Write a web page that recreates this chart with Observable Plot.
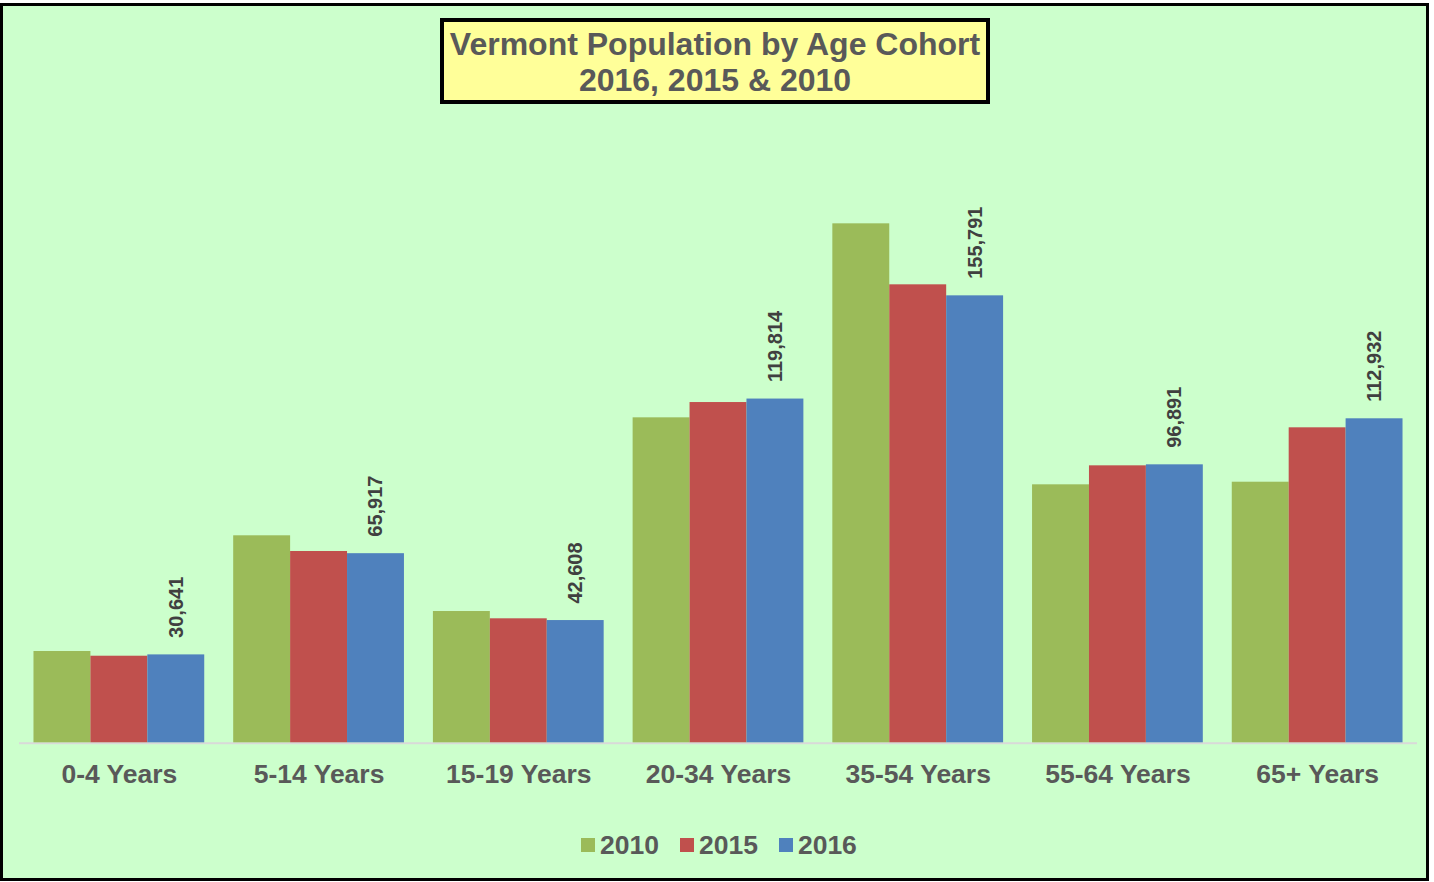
<!DOCTYPE html>
<html>
<head>
<meta charset="utf-8">
<script src="https://cdn.jsdelivr.net/npm/d3@7"></script>
<script src="https://cdn.jsdelivr.net/npm/@observablehq/plot@0.6"></script>
<style>
  html, body { margin: 0; padding: 0; background: #ffffff; width: 1434px; height: 882px; overflow: hidden; }
  body { position: relative; font-family: "Liberation Sans", Arial, sans-serif; }
  #frame { position: absolute; left: 0; top: 3px; width: 1429px; height: 878px; box-sizing: border-box;
           border: 3px solid #000; background: #CCFFCC; }
  #title { position: absolute; left: 440px; top: 18px; width: 550px; height: 86px; box-sizing: border-box;
           border: 4px solid #000; background: #FFFF99; color: #595959; font-weight: bold; font-size: 32px;
           line-height: 36px; text-align: center; padding-top: 4px; }
  #chart { position: absolute; left: 0; top: 110px; }
  #legend { position: absolute; left: 581px; top: 829px; display: flex; align-items: center; color: #595959;
            font-weight: bold; font-size: 26.5px; line-height: 32px; }
  .item { display: flex; align-items: center; margin-right: 21px; }
  .sw { width: 14px; height: 14px; margin-right: 5px; }
</style>
</head>
<body>
<div id="frame"></div>
<div id="title">Vermont Population by Age Cohort<br>2016, 2015 &amp; 2010</div>
<div id="chart"></div>
<div id="legend"></div>
<script>
const categories = ["0-4 Years", "5-14 Years", "15-19 Years", "20-34 Years", "35-54 Years", "55-64 Years", "65+ Years"];
const years = ["2010", "2015", "2016"];
const v2010 = [31820, 72150, 45760, 113270, 180890, 89920, 90830];
const v2015 = [30180, 66680, 43220, 118600, 159630, 96540, 109790];
const v2016 = [30641, 65917, 42608, 119814, 155791, 96891, 112932];
const colors = ["#9BBB59", "#C0504D", "#4F81BD"];

const series = {"2010": v2010, "2015": v2015, "2016": v2016};
const rows = [];
categories.forEach((c, i) => years.forEach(y => rows.push({category: c, year: y, value: series[y][i]})));
const labelRows = rows.filter(d => d.year === "2016");

const W = 1434, H = 700;
const plot = Plot.plot({
  width: W,
  height: H,
  marginLeft: 19,
  marginRight: 17,
  marginTop: 58.5,
  marginBottom: 67.7,
  style: {background: "transparent", fontFamily: "'Liberation Sans', Arial, sans-serif", fontSize: "26.5px", fontWeight: "bold", color: "#595959"},
  fx: {domain: categories, paddingInner: 0.145, paddingOuter: 0.0725, round: false, axis: "bottom", tickSize: 0, tickPadding: 21, label: null},
  x: {domain: years, padding: 0, round: false, axis: null},
  y: {domain: [0, 200000], axis: null},
  color: {domain: years, range: colors},
  marks: [
    Plot.barY(rows, {fx: "category", x: "year", y: "value", fill: "year"}),
    Plot.text(labelRows, {fx: "category", x: "year", y: "value", text: d => d3.format(",")(d.value),
      rotate: -90, textAnchor: "start", lineAnchor: "middle", dy: -17,
      fontSize: 20, fontWeight: "bold", fill: "#404040"})
  ]
});
document.getElementById("chart").appendChild(plot);

// baseline across the whole plotting area
const yScale = plot.scale("y");
const y0 = yScale.apply(0);
d3.select(plot).insert("line", ":first-child")
  .attr("x1", 19).attr("x2", W - 17).attr("y1", y0 + 1).attr("y2", y0 + 1)
  .attr("stroke", "#D9D9D9").attr("stroke-width", 2);

const legend = d3.select("#legend");
years.forEach((y, i) => {
  const it = legend.append("div").attr("class", "item");
  it.append("div").attr("class", "sw").style("background", colors[i]);
  it.append("span").text(y);
});
</script>
</body>
</html>
